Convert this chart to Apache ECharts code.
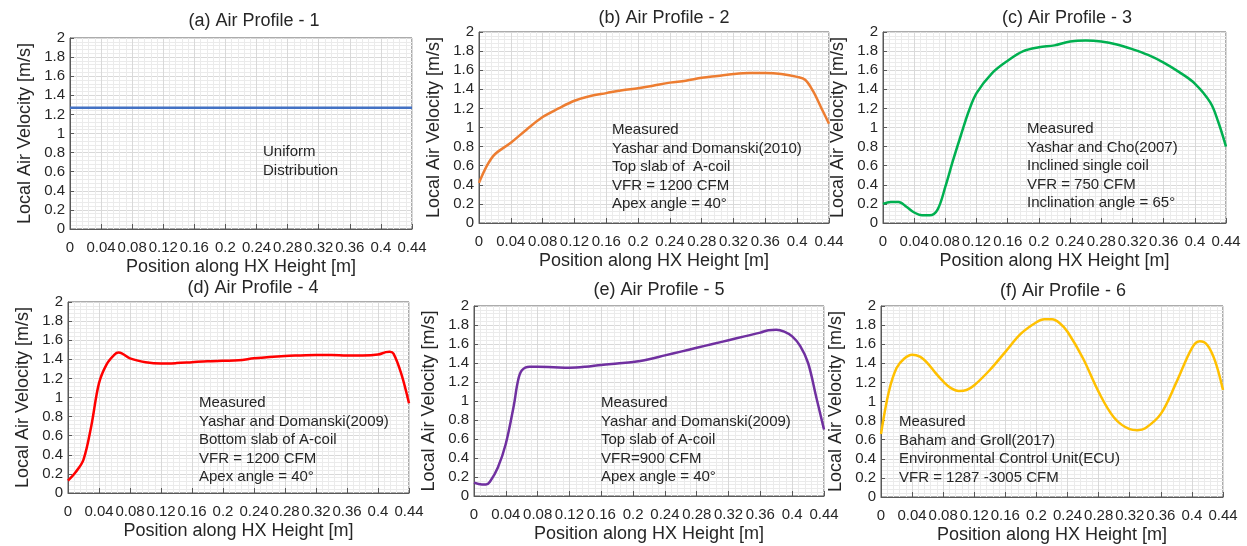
<!DOCTYPE html>
<html>
<head>
<meta charset="utf-8">
<title>Air Profiles</title>
<script src="https://cdn.jsdelivr.net/npm/echarts@6/dist/echarts.min.js"></script>
<style>
  html, body { margin: 0; padding: 0; background: #fff; }
  #chart { width: 1247px; height: 546px; }
</style>
</head>
<body>
<div id="chart"></div>
<script>
// values (position [m], velocity [m/s])
var posA = [0, 0.44]
var velA = [1.27, 1.27]

var posB = [0, 0.01, 0.02, 0.04, 0.06, 0.08, 0.10, 0.12, 0.14, 0.16, 0.18, 0.20, 0.22, 0.24, 0.26, 0.28, 0.30, 0.32, 0.34, 0.36, 0.38, 0.40, 0.41, 0.42, 0.43, 0.44]
var velB = [0.42, 0.60, 0.72, 0.84, 0.98, 1.11, 1.20, 1.28, 1.33, 1.36, 1.39, 1.41, 1.44, 1.47, 1.49, 1.52, 1.54, 1.56, 1.57, 1.57, 1.56, 1.53, 1.50, 1.38, 1.21, 1.04]

var posC = [0, 0.01, 0.02, 0.03, 0.04, 0.05, 0.06, 0.07, 0.08, 0.09, 0.10, 0.11, 0.12, 0.14, 0.16, 0.18, 0.20, 0.22, 0.24, 0.26, 0.28, 0.30, 0.32, 0.34, 0.36, 0.38, 0.40, 0.42, 0.43, 0.44]
var velC = [0.20, 0.22, 0.22, 0.17, 0.11, 0.08, 0.08, 0.14, 0.38, 0.66, 0.92, 1.17, 1.36, 1.57, 1.70, 1.80, 1.84, 1.86, 1.90, 1.91, 1.90, 1.87, 1.82, 1.76, 1.68, 1.58, 1.46, 1.26, 1.06, 0.80]

var posD = [0, 0.01, 0.02, 0.03, 0.04, 0.05, 0.06, 0.065, 0.07, 0.08, 0.10, 0.12, 0.14, 0.16, 0.18, 0.20, 0.22, 0.24, 0.26, 0.28, 0.30, 0.32, 0.34, 0.36, 0.38, 0.40, 0.41, 0.415, 0.42, 0.43, 0.44]
var velD = [0.13, 0.22, 0.35, 0.70, 1.15, 1.35, 1.45, 1.47, 1.46, 1.41, 1.37, 1.355, 1.36, 1.37, 1.38, 1.385, 1.39, 1.41, 1.425, 1.435, 1.44, 1.445, 1.445, 1.44, 1.44, 1.45, 1.475, 1.48, 1.46, 1.25, 0.94]

var posE = [0, 0.01, 0.015, 0.02, 0.03, 0.04, 0.05, 0.055, 0.06, 0.07, 0.08, 0.10, 0.12, 0.14, 0.16, 0.18, 0.20, 0.22, 0.24, 0.26, 0.28, 0.30, 0.32, 0.34, 0.36, 0.37, 0.38, 0.39, 0.40, 0.41, 0.42, 0.43, 0.44]
var velE = [0.14, 0.12, 0.12, 0.15, 0.30, 0.55, 0.95, 1.20, 1.32, 1.36, 1.36, 1.355, 1.35, 1.36, 1.38, 1.395, 1.41, 1.44, 1.48, 1.52, 1.56, 1.60, 1.64, 1.68, 1.72, 1.745, 1.75, 1.73, 1.68, 1.58, 1.40, 1.05, 0.70]

var posF = [0, 0.01, 0.02, 0.03, 0.04, 0.05, 0.06, 0.07, 0.08, 0.09, 0.10, 0.11, 0.12, 0.14, 0.16, 0.18, 0.20, 0.21, 0.22, 0.23, 0.24, 0.26, 0.28, 0.30, 0.32, 0.33, 0.34, 0.36, 0.38, 0.40, 0.41, 0.42, 0.43, 0.44]
var velF = [0.66, 1.10, 1.35, 1.45, 1.49, 1.47, 1.40, 1.30, 1.21, 1.14, 1.11, 1.12, 1.17, 1.33, 1.52, 1.71, 1.83, 1.86, 1.86, 1.82, 1.73, 1.45, 1.10, 0.83, 0.71, 0.70, 0.72, 0.87, 1.20, 1.56, 1.63, 1.59, 1.42, 1.12]

var titles = ['(a) Air Profile - 1', '(b) Air Profile - 2', '(c) Air Profile - 3',
  '(d) Air Profile - 4', '(e) Air Profile - 5', '(f) Air Profile - 6']

var notes = [
  ['Uniform', 'Distribution'],
  ['Measured', 'Yashar and Domanski(2010)', 'Top slab of  A-coil', 'VFR = 1200 CFM', 'Apex angle = 40°'],
  ['Measured', 'Yashar and Cho(2007)', 'Inclined single coil', 'VFR = 750 CFM', 'Inclination angle = 65°'],
  ['Measured', 'Yashar and Domanski(2009)', 'Bottom slab of A-coil', 'VFR = 1200 CFM', 'Apex angle = 40°'],
  ['Measured', 'Yashar and Domanski(2009)', 'Top slab of A-coil', 'VFR=900 CFM', 'Apex angle = 40°'],
  ['Measured', 'Baham and Groll(2017)', 'Environmental Control Unit(ECU)', 'VFR = 1287 -3005 CFM']
]

var series = [[posA, velA], [posB, velB], [posC, velC], [posD, velD], [posE, velE], [posF, velF]]
var colors = ['#4472C4', '#ED7D31', '#00B050', '#FF0000', '#7030A0', '#FFC000']

// layout of each panel
var panels = [
  { left: 70, top: 38, width: 342, height: 191, tx: 249, ty: 7, nx: 263, ny: 143 },
  { left: 479, top: 32, width: 350, height: 191, tx: 659, ty: 4, nx: 612, ny: 121 },
  { left: 883, top: 32, width: 343, height: 191, tx: 1062, ty: 4, nx: 1027, ny: 120 },
  { left: 68, top: 302, width: 341, height: 191, tx: 248, ty: 274, nx: 199, ny: 394 },
  { left: 474, top: 306, width: 350, height: 190, tx: 654, ty: 276, nx: 601, ny: 394 },
  { left: 881, top: 306, width: 342, height: 191, tx: 1058, ty: 277, nx: 899, ny: 413 }
]

var fontFamily = '"Liberation Sans", Arial, sans-serif'
var textColor = '#262626'
var frameColor = '#595959'

var chartDom = document.getElementById('chart')
var myChart = echarts.init(chartDom)

var grids = [], xAxes = [], yAxes = [], lines = [], titleList = [], graphics = []

panels.forEach(function (p, i) {
  grids.push({
    left: p.left, top: p.top, width: p.width, height: p.height,
    show: true, borderColor: frameColor, borderWidth: 1,
    outerBoundsMode: 'none'
  })
  xAxes.push({
    type: 'value', gridIndex: i, min: 0, max: 0.44, interval: 0.04,
    name: 'Position along HX Height [m]', nameLocation: 'middle', nameGap: 29,
    nameTextStyle: { fontSize: 18, color: textColor, fontFamily: fontFamily },
    axisLine: { show: true, onZero: false, lineStyle: { color: frameColor } },
    axisTick: { show: true, inside: true, length: 5, lineStyle: { color: frameColor } },
    axisLabel: { fontSize: 15, color: textColor, fontFamily: fontFamily, margin: 11, showMinLabel: true, showMaxLabel: true },
    splitLine: { show: true, lineStyle: { color: '#d9d9d9' } },
    minorTick: { show: false, splitNumber: 5 },
    minorSplitLine: { show: true, lineStyle: { color: '#ebebeb' } }
  })
  yAxes.push({
    type: 'value', gridIndex: i, min: 0, max: 2, interval: 0.2,
    name: 'Local Air Velocity [m/s]', nameLocation: 'middle', nameGap: 36,
    nameTextStyle: { fontSize: 18, color: textColor, fontFamily: fontFamily },
    axisLine: { show: true, onZero: false, lineStyle: { color: frameColor } },
    axisTick: { show: true, inside: true, length: 4, lineStyle: { color: frameColor } },
    axisLabel: { fontSize: 15, color: textColor, fontFamily: fontFamily, margin: 5, showMinLabel: true, showMaxLabel: true },
    splitLine: { show: true, lineStyle: { color: '#d9d9d9' } },
    minorTick: { show: false, splitNumber: 5 },
    minorSplitLine: { show: true, lineStyle: { color: '#ebebeb' } }
  })
  var pos = series[i][0], vel = series[i][1]
  lines.push({
    type: 'line', xAxisIndex: i, yAxisIndex: i,
    data: pos.map(function (x, k) { return [x, vel[k]] }),
    smooth: 0.35, showSymbol: false, symbol: 'none',
    lineStyle: { color: colors[i], width: 2.5 },
    itemStyle: { color: colors[i] }
  })
  titleList.push({
    text: titles[i], left: p.tx, top: p.ty, textAlign: 'center',
    textStyle: { fontSize: 18, fontWeight: 'normal', color: textColor, fontFamily: fontFamily }
  })
  graphics.push({
    type: 'text', left: p.nx, top: p.ny, z: 10,
    style: {
      text: notes[i].join('\n'),
      font: '15px ' + fontFamily,
      lineHeight: 18.5,
      fill: textColor
    }
  })
})

var option = {
  animation: false,
  backgroundColor: '#fff',
  title: titleList,
  grid: grids,
  xAxis: xAxes,
  yAxis: yAxes,
  series: lines,
  graphic: graphics
}

option && myChart.setOption(option)
window.addEventListener('resize', () => myChart.resize())
</script>
</body>
</html>
